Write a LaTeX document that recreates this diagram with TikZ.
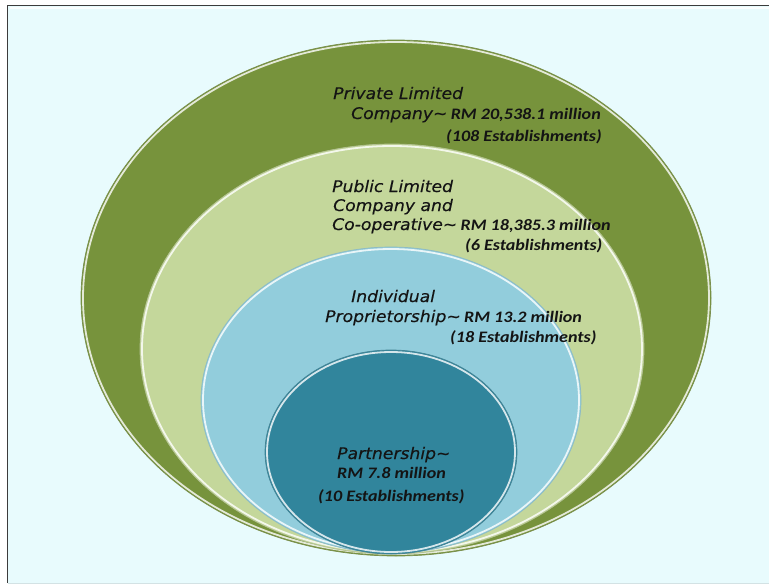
\documentclass[tikz,border=0pt]{standalone}
\usepackage{fontspec}
\newfontfamily\vfont{DejaVu Sans}[FakeStretch=1.075, FakeBold=0.3]
\newfontfamily\cfont{Carlito}[FakeStretch=1.13]
\definecolor{bgc}{RGB}{232,251,253}
\definecolor{framec}{RGB}{60,60,60}
\definecolor{darkg}{RGB}{119,147,60}
\definecolor{lightg}{RGB}{196,215,155}
\definecolor{lightb}{RGB}{146,205,220}
\definecolor{tealc}{RGB}{49,133,156}
\definecolor{txt}{RGB}{20,20,20}
\tikzset{
  lbl/.style={anchor=base west, inner sep=0pt, text=txt},
}
\newcommand{\nm}[1]{{\vfont\itshape\fontsize{16}{18}\selectfont #1}}
\newcommand{\vl}[1]{{\cfont\bfseries\itshape\fontsize{16}{18}\selectfont #1}}
% ring: center x, center y, rx, ry, colour
\newcommand{\bevelring}[5]{%
  \fill[#5] (#1,#2) ellipse [x radius=#3, y radius=#4];
  \draw[white, opacity=0.8, line width=1.8pt] (#1,#2) ellipse [x radius=#3-2, y radius=#4-2];
  \draw[#5!75!gray, line width=0.7pt] (#1,#2) ellipse [x radius=#3, y radius=#4];
}
\begin{document}
\begin{tikzpicture}[x=1pt,y=-1pt]
\useasboundingbox (0,0) rectangle (769,584);
\fill[white] (0,0) rectangle (769,584);
\fill[bgc] (7.5,5.5) rectangle (780,583);
\draw[framec, line width=1.5pt] (780,5.5) -- (7.5,5.5) -- (7.5,583);
\draw[bgc!80!gray, line width=1pt] (7.5,583) -- (780,583);
\draw[white, line width=1.5pt, opacity=0.8] (10,8) -- (780,8);
% rings
\bevelring{396}{298}{315}{258}{darkg}
\bevelring{392}{349}{252}{205}{lightg}
\bevelring{391}{400}{190}{153}{lightb}
\bevelring{391}{452}{126}{102}{tealc}
% labels
\node[lbl] (p1) at (333,99) {\nm{Private Limited}};
\node[lbl] (p2) at (351,119) {\nm{Company\textasciitilde} \vl{RM 20,538.1 million}};
\node[lbl] (p3) at (446,141) {\vl{(108 Establishments)}};
\node[lbl] (q1) at (332,192) {\nm{Public Limited}};
\node[lbl] (q2) at (333,211) {\nm{Company and}};
\node[lbl] (q3) at (332,230) {\nm{Co-operative\textasciitilde} \vl{RM 18,385.3 million}};
\node[lbl] (q4) at (465,250) {\vl{(6 Establishments)}};
\node[lbl] (r1) at (351,302) {\nm{Individual}};
\node[lbl] (r2) at (325,322) {\nm{Proprietorship\textasciitilde} \vl{RM 13.2 million}};
\node[lbl] (r3) at (450,342) {\vl{(18 Establishments)}};
\node[lbl] (s1) at (337,459) {\nm{Partnership\textasciitilde}};
\node[lbl] (s2) at (337,478) {\vl{RM 7.8 million}};
\node[lbl] (s3) at (318,501) {\vl{(10 Establishments)}};
\end{tikzpicture}
\end{document}
